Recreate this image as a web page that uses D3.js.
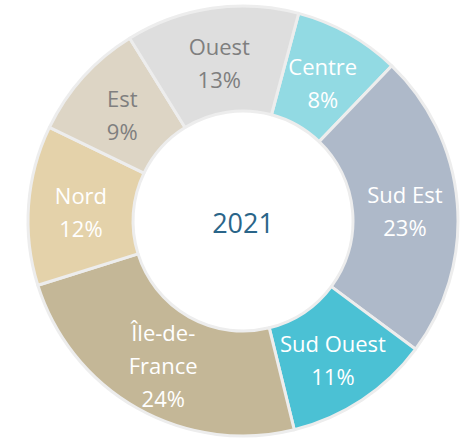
<!DOCTYPE html>
<html>
<head>
<meta charset="utf-8">
<script src="https://cdn.jsdelivr.net/npm/d3@7"></script>
<style>
  html, body { margin: 0; padding: 0; background: #fff; }
  svg { display: block; }
</style>
</head>
<body>
<svg id="donut" width="460" height="440"></svg>
<script>
// data
var regions = ["Centre", "Sud Est", "Sud Ouest", "Île-de-France", "Nord", "Est", "Ouest"];
var shares = [8, 23, 11, 24, 12, 9, 13];
var sliceColors = ["#92dae3", "#aeb9c9", "#4bc1d4", "#c4b797", "#e4d2aa", "#ddd5c5", "#dedede"];
var labelColors = ["#fff", "#fff", "#fff", "#fff", "#fff", "#7f7f7f", "#7f7f7f"];
var year = "2021";

var svg = d3.select("svg#donut"),
  cx = 243,
  cy = 221,
  outer = 215,
  inner = 110,
  start = 15 * Math.PI / 180;

var table = regions.map(function(r, i) {
  return {name: r, value: shares[i], color: sliceColors[i], text: labelColors[i]};
});

var pie = d3.pie()
  .sort(null)
  .value(function(d) { return d.value; })
  .startAngle(start)
  .endAngle(start + 2 * Math.PI);

var arc = d3.arc().innerRadius(inner).outerRadius(outer);

var g = svg.append("g")
  .attr("transform", "translate(" + cx + "," + cy + ")");

var slices = g.selectAll(".slice")
  .data(pie(table))
  .enter().append("g")
  .attr("class", "slice");

slices.append("path")
  .attr("d", arc)
  .style("fill", function(d) { return d.data.color; })
  .style("stroke", "#ededed")
  .style("stroke-width", 3)
  .style("stroke-linejoin", "round");

// long names get broken after "de-" like the original
function lines(d) {
  var name = d.data.name;
  var parts = name.length > 10 ? name.replace("de-", "de-|").split("|") : [name];
  return parts.concat([d.data.value + "%"]);
}

var lineH = 33;

slices.each(function(d) {
  var c = arc.centroid(d),
    ls = lines(d),
    top = c[1] + 4 - (ls.length - 1) * lineH / 2;
  var t = d3.select(this).append("text")
    .attr("text-anchor", "middle")
    .style("font", "22px 'Open Sans', sans-serif")
    .style("fill", d.data.text);
  ls.forEach(function(s, i) {
    t.append("tspan")
      .attr("x", c[0])
      .attr("y", top + i * lineH)
      .attr("dy", "0.35em")
      .text(s);
  });
});

g.append("text")
  .attr("text-anchor", "middle")
  .attr("y", 3)
  .attr("dy", "0.35em")
  .style("font", "27px 'Open Sans', sans-serif")
  .style("fill", "#2a6589")
  .text(year);
</script>
</body>
</html>
